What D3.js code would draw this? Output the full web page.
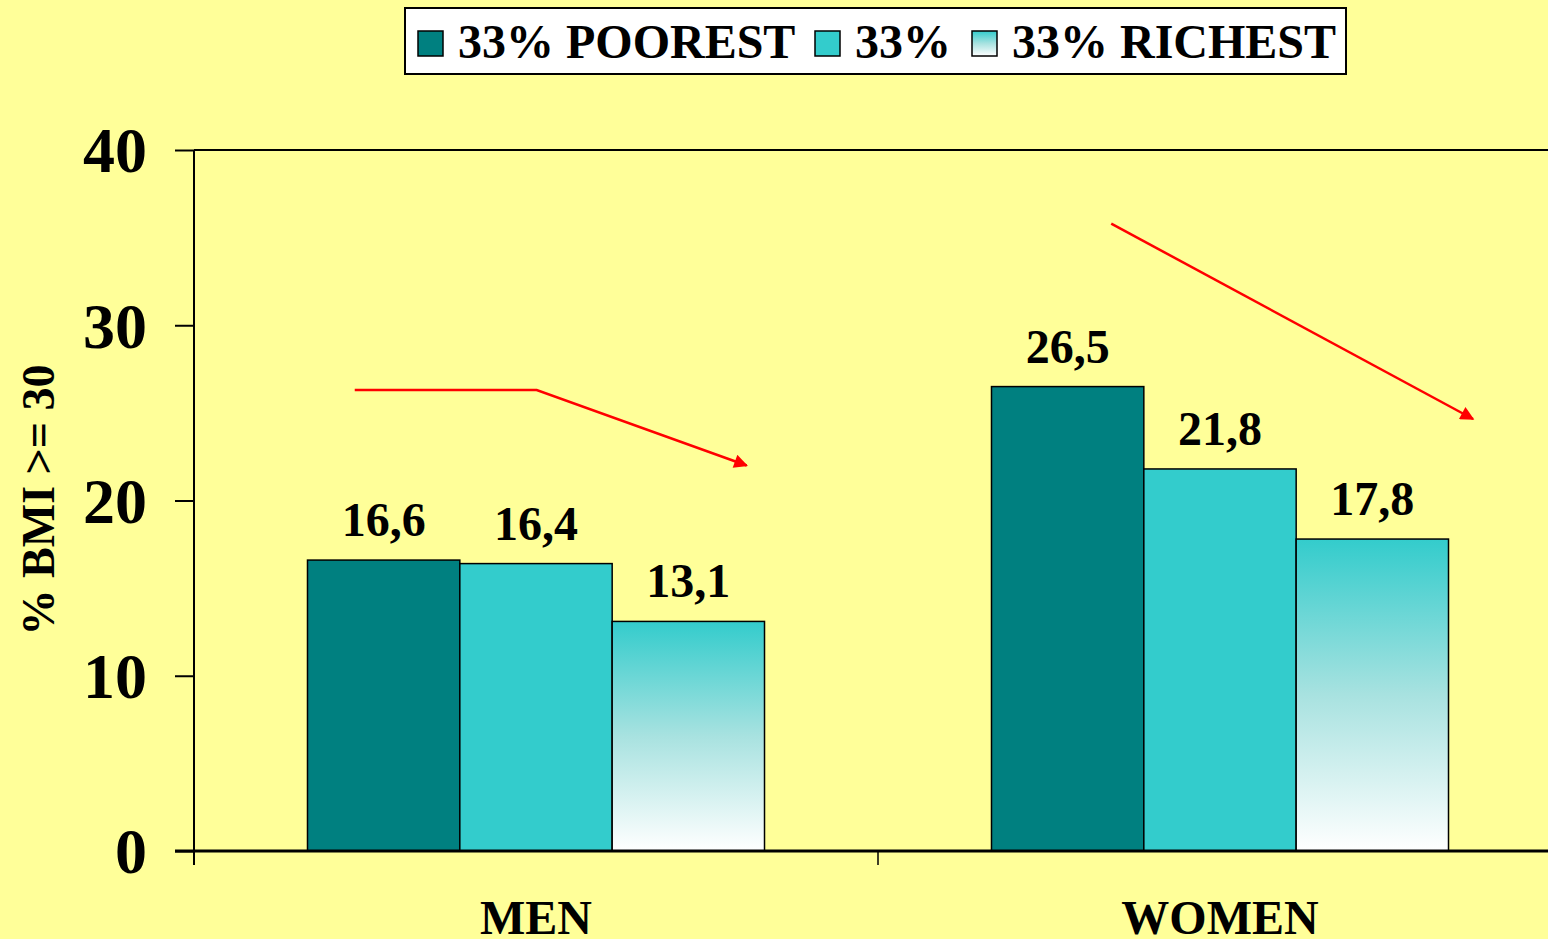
<!DOCTYPE html>
<html>
<head>
<meta charset="utf-8">
<script src="https://cdn.jsdelivr.net/npm/d3@7"></script>
<style>
  html, body { margin: 0; padding: 0; background: #ffff99; overflow: hidden; }
  text { font-family: "Liberation Serif", "Times New Roman", serif; font-weight: bold; }
</style>
</head>
<body>
<svg id="chart" width="1548" height="939"></svg>
<script>
var categories = ["MEN", "WOMEN"];
var series = ["33% POOREST", "33%", "33% RICHEST"];
var values = {
  "33% POOREST": [16.6, 26.5],
  "33%": [16.4, 21.8],
  "33% RICHEST": [13.1, 17.8]
};
var yTicks = [0, 10, 20, 30, 40];
var yTitle = "% BMI >= 30";
// red trend arrows, x in category units (0..2), y in data units
var arrowMen = [[0.235, 26.3], [0.501, 26.3], [0.808, 22.0]];
var arrowWomen = [[1.341, 35.8], [1.870, 24.65]];

var svg = d3.select("#chart");
var width = 1548, height = 939;

svg.append("rect").attr("width", width).attr("height", height).attr("fill", "#ffff99");

var defs = svg.append("defs");
var grad = defs.append("linearGradient")
  .attr("id", "richGrad")
  .attr("x1", 0).attr("y1", 0).attr("x2", 0).attr("y2", 1);
grad.append("stop").attr("offset", "0%").attr("stop-color", "#33cccc");
grad.append("stop").attr("offset", "50%").attr("stop-color", "#a8e2e0");
grad.append("stop").attr("offset", "100%").attr("stop-color", "#ffffff");

defs.append("marker")
  .attr("id", "arrowHead")
  .attr("viewBox", "0 0 10 10")
  .attr("refX", 9).attr("refY", 5)
  .attr("markerWidth", 6).attr("markerHeight", 5.5)
  .attr("markerUnits", "strokeWidth")
  .attr("orient", "auto")
  .append("path").attr("d", "M0,0 L10,5 L0,10 z").attr("fill", "#ff0000");

var fills = {
  "33% POOREST": "#008080",
  "33%": "#33cccc",
  "33% RICHEST": "url(#richGrad)"
};

var left = 194, bandW = 684;
var x0 = d3.scaleBand().domain(categories).range([left, left + bandW * 2]).padding(0);
var x1 = d3.scaleBand().domain(series).range([0, x0.bandwidth()]).paddingInner(0).paddingOuter(0.745);
var xc = d3.scaleLinear().domain([0, 2]).range([left, left + bandW * 2]);
var y = d3.scaleLinear().domain([0, 40]).range([851, 150]);

// top frame line at max
svg.append("line")
  .attr("x1", left).attr("x2", width)
  .attr("y1", y(40)).attr("y2", y(40))
  .attr("stroke", "#000").attr("stroke-width", 2);

// y axis
var yAxis = svg.append("g")
  .attr("transform", "translate(" + left + ",0)")
  .call(d3.axisLeft(y).tickValues(yTicks).tickSize(19).tickPadding(28).tickFormat(d3.format("d")));
yAxis.select(".domain").attr("stroke", "#000").attr("stroke-width", 2)
  .attr("d", "M0," + y(40) + "V" + (y(0) + 14));
yAxis.selectAll(".tick line").attr("stroke", "#000").attr("stroke-width", 2);
yAxis.selectAll(".tick text")
  .attr("fill", "#000")
  .style("font-family", "'Liberation Serif', 'Times New Roman', serif")
  .style("font-weight", "bold")
  .style("font-size", "64px")
  .attr("dy", "0.34em");

// bars
var groups = svg.append("g").selectAll("g")
  .data(categories)
  .enter().append("g")
  .attr("transform", function(d) { return "translate(" + x0(d) + ",0)"; });

groups.selectAll("rect")
  .data(function(d, i) { return series.map(function(s) { return {s: s, v: values[s][i]}; }); })
  .enter().append("rect")
  .attr("x", function(d) { return x1(d.s); })
  .attr("y", function(d) { return y(d.v); })
  .attr("width", x1.bandwidth())
  .attr("height", function(d) { return y(0) - y(d.v); })
  .attr("fill", function(d) { return fills[d.s]; })
  .attr("stroke", "#000")
  .attr("stroke-width", 1.5);

groups.selectAll("text.val")
  .data(function(d, i) { return series.map(function(s) { return {s: s, v: values[s][i]}; }); })
  .enter().append("text")
  .attr("class", "val")
  .attr("x", function(d) { return x1(d.s) + x1.bandwidth() / 2; })
  .attr("y", function(d) { return y(d.v) - 24; })
  .attr("text-anchor", "middle")
  .attr("font-size", 48)
  .attr("fill", "#000")
  .text(function(d) { return String(d.v).replace(".", ","); });

// x axis
var xAxis = svg.append("g")
  .attr("transform", "translate(0," + y(0) + ")")
  .call(d3.axisBottom(x0).tickSize(0));
xAxis.select(".domain").remove();
xAxis.append("line")
  .attr("x1", 175).attr("x2", width)
  .attr("y1", 0).attr("y2", 0)
  .attr("stroke", "#000").attr("stroke-width", 3);
xAxis.selectAll(".sep")
  .data([1])
  .enter().append("line")
  .attr("x1", function(d) { return xc(d); }).attr("x2", function(d) { return xc(d); })
  .attr("y1", 0).attr("y2", 14)
  .attr("stroke", "#000").attr("stroke-width", 1.5);
xAxis.selectAll(".tick text")
  .attr("fill", "#000")
  .style("font-family", "'Liberation Serif', 'Times New Roman', serif")
  .style("font-weight", "bold")
  .style("font-size", "48px")
  .attr("y", 83)
  .attr("dy", "0");

// y title
svg.append("text")
  .attr("transform", "translate(54," + 500 + ") rotate(-90)")
  .attr("text-anchor", "middle")
  .attr("font-size", 46)
  .attr("fill", "#000")
  .text(yTitle);

// arrows
var line = d3.line().x(function(d) { return xc(d[0]); }).y(function(d) { return y(d[1]); });
[arrowMen, arrowWomen].forEach(function(a) {
  svg.append("path")
    .attr("d", line(a))
    .attr("fill", "none")
    .attr("stroke", "#ff0000")
    .attr("stroke-width", 2.5)
    .attr("marker-end", "url(#arrowHead)");
});

// legend
var legend = svg.append("g");
legend.append("rect")
  .attr("x", 405).attr("y", 8).attr("width", 941).attr("height", 66)
  .attr("fill", "#fff").attr("stroke", "#000").attr("stroke-width", 2);
var legendX = [418, 815, 972];
series.forEach(function(s, i) {
  legend.append("rect")
    .attr("x", legendX[i]).attr("y", 31).attr("width", 25).attr("height", 25)
    .attr("fill", fills[s]).attr("stroke", "#000").attr("stroke-width", 1.5);
  legend.append("text")
    .attr("x", legendX[i] + 40).attr("y", 58)
    .attr("font-size", 48)
    .attr("fill", "#000")
    .text(s.replace(" ", "\u00a0"));
});
</script>
</body>
</html>
